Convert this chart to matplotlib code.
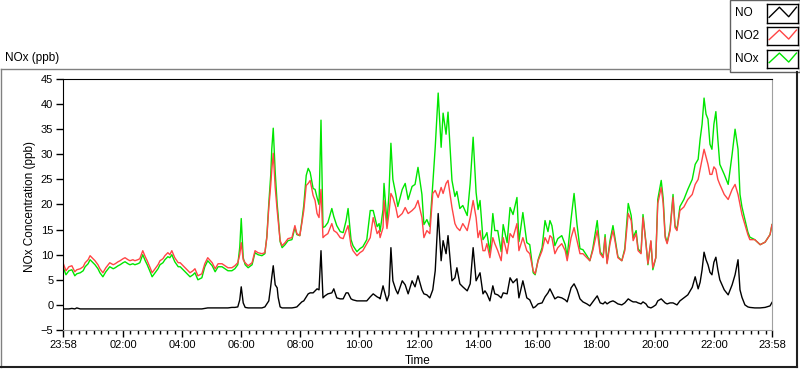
import matplotlib
matplotlib.use('Agg')
import matplotlib.pyplot as plt
from matplotlib.lines import Line2D
from matplotlib.patches import Rectangle

plt.rcParams['font.family'] = ['Liberation Sans', 'DejaVu Sans']

# minutes after 23:58
minutes = [0, 6, 12, 18, 24, 28, 35, 41, 45, 51, 55, 61, 65, 71, 75, 81, 87, 95, 102, 106,
           112, 116, 122, 126, 132, 136, 142, 146, 152, 156, 162, 167, 171, 177, 181, 187, 193, 197, 203, 207,
           213, 217, 221, 227, 234, 238, 244, 248, 254, 258, 264, 268, 274, 282, 288, 294, 303, 309, 315, 323,
           329, 335, 343, 349, 355, 359, 362, 366, 370, 376, 384, 390, 396, 404, 410, 414, 418, 422, 424, 427,
           431, 435, 437, 441, 445, 451, 457, 465, 471, 475, 481, 485, 489, 494, 498, 502, 508, 512, 516, 520,
           524, 528, 532, 538, 546, 550, 556, 563, 569, 575, 579, 585, 589, 597, 603, 609, 617, 624, 630, 638,
           642, 644, 650, 652, 658, 662, 666, 670, 676, 680, 689, 695, 701, 709, 715, 721, 729, 733, 739, 745,
           751, 756, 762, 768, 772, 778, 782, 790, 796, 800, 806, 812, 821, 827, 833, 839, 843, 847, 853, 857,
           861, 867, 873, 877, 883, 890, 894, 902, 908, 914, 922, 926, 934, 942, 948, 955, 959, 965, 973, 979,
           985, 989, 993, 999, 1005, 1013, 1020, 1024, 1032, 1038, 1044, 1050, 1056, 1064, 1070, 1076, 1085, 1091, 1097, 1101,
           1105, 1111, 1117, 1121, 1127, 1135, 1141, 1148, 1154, 1158, 1164, 1168, 1174, 1178, 1184, 1188, 1194, 1198, 1204, 1208,
           1215, 1219, 1223, 1227, 1233, 1239, 1243, 1247, 1253, 1261, 1269, 1278, 1284, 1290, 1294, 1298, 1302, 1306, 1310, 1314,
           1318, 1322, 1326, 1330, 1334, 1343, 1351, 1359, 1365, 1371, 1375, 1379, 1385, 1391, 1395, 1405, 1416, 1426, 1436, 1440]

no2 = [8.4, 6.8, 7.6, 7.8, 6.6, 7.0, 7.2, 7.6, 8.4, 9.0, 9.8, 9.2, 8.8, 8.0, 7.2, 6.4, 7.4, 8.4, 8.0, 8.2,
       8.6, 8.8, 9.2, 9.4, 9.0, 8.8, 9.0, 8.8, 9.0, 9.2, 10.8, 9.6, 8.8, 7.4, 6.4, 7.2, 8.0, 8.8, 9.2, 9.8,
       10.4, 10.0, 10.8, 9.4, 8.4, 8.4, 7.8, 7.4, 6.8, 6.4, 6.8, 7.2, 5.8, 6.2, 8.2, 9.4, 8.4, 7.2, 8.2, 8.2,
       7.8, 7.4, 7.4, 7.8, 8.4, 10.0, 12.4, 9.0, 8.4, 7.8, 8.4, 10.8, 10.4, 10.2, 10.4, 13.4, 19.4, 24.0, 26.8, 30.2,
       23.4, 18.8, 16.8, 12.8, 11.8, 12.4, 13.2, 13.4, 15.8, 14.2, 13.8, 16.2, 18.8, 23.8, 24.2, 24.8, 21.8, 20.8, 18.2, 17.4,
       23.0, 13.4, 13.8, 14.2, 16.2, 14.8, 14.4, 13.4, 13.2, 14.8, 15.8, 11.8, 10.8, 9.8, 10.4, 10.8, 12.2, 13.4, 17.4, 14.2,
       14.8, 13.4, 15.4, 20.8, 15.2, 18.2, 22.2, 21.4, 19.4, 17.4, 18.2, 19.4, 18.2, 18.8, 19.4, 20.8, 17.4, 13.4, 14.8, 14.2,
       22.2, 22.8, 21.4, 23.4, 22.2, 24.2, 24.8, 19.4, 16.2, 15.4, 14.8, 16.2, 14.8, 17.4, 20.8, 17.4, 13.4, 14.8, 10.8, 10.8,
       12.2, 9.4, 13.4, 12.2, 10.8, 8.8, 13.4, 10.2, 14.2, 13.4, 16.2, 10.8, 13.4, 10.8, 10.2, 6.8, 6.2, 8.8, 10.8, 13.4,
       12.2, 13.8, 13.4, 10.2, 11.4, 12.2, 10.8, 8.8, 13.4, 15.4, 12.8, 10.2, 10.2, 9.4, 8.8, 10.8, 14.8, 10.2, 9.4, 13.4,
       8.2, 12.2, 14.8, 12.8, 9.4, 8.8, 10.8, 18.2, 16.8, 12.8, 14.2, 10.8, 10.2, 17.4, 12.2, 8.2, 12.8, 7.4, 9.4, 20.2,
       23.4, 20.2, 13.4, 12.2, 14.8, 21.4, 15.4, 14.8, 18.8, 19.5, 21.0, 22.0, 24.0, 25.0, 27.0, 29.0, 31.0, 29.5, 28.0, 26.0,
       26.0, 27.5, 27.0, 25.0, 24.0, 22.0, 21.0, 23.0, 24.0, 22.0, 20.0, 18.0, 16.0, 14.0, 13.0, 13.0, 12.0, 12.5, 14.0, 16.0]

nox = [7.6, 6.0, 6.8, 7.0, 5.8, 6.2, 6.4, 6.8, 7.6, 8.2, 9.0, 8.4, 8.0, 7.2, 6.4, 5.6, 6.6, 7.6, 7.2, 7.4,
       7.8, 8.0, 8.4, 8.6, 8.2, 8.0, 8.2, 8.0, 8.2, 8.4, 10.0, 8.8, 8.0, 6.6, 5.6, 6.4, 7.2, 8.0, 8.4, 9.0,
       9.6, 9.4, 10.0, 8.6, 7.6, 7.6, 7.0, 6.6, 6.0, 5.6, 6.0, 6.4, 5.0, 5.4, 7.6, 8.8, 7.8, 6.6, 7.6, 7.6,
       7.2, 6.8, 6.8, 7.2, 8.0, 11.5, 17.2, 9.4, 8.0, 7.4, 8.0, 10.4, 10.0, 9.8, 10.2, 13.6, 20.2, 26.0, 31.0, 35.2,
       26.4, 20.0, 17.8, 12.6, 11.4, 12.0, 12.8, 13.0, 15.4, 14.0, 13.8, 16.6, 19.8, 25.8, 27.2, 26.4, 23.2, 23.0, 21.4, 20.0,
       36.8, 15.4, 15.6, 16.4, 19.2, 17.6, 15.8, 14.6, 14.4, 16.8, 19.2, 13.0, 11.8, 10.6, 11.2, 11.6, 13.0, 18.8, 18.8, 15.6,
       16.2, 14.6, 19.0, 24.2, 16.4, 22.0, 32.2, 25.0, 22.0, 19.6, 23.0, 24.2, 21.0, 23.6, 24.0, 27.4, 22.0, 16.0, 17.0, 15.6,
       24.0, 31.4, 42.2, 31.4, 38.2, 34.0, 38.4, 24.8, 21.6, 22.6, 19.2, 19.8, 17.8, 24.2, 33.4, 22.4, 19.0, 20.8, 13.0, 13.6,
       14.4, 10.4, 18.2, 14.8, 14.8, 10.6, 16.0, 12.4, 19.4, 18.0, 21.4, 12.6, 18.4, 12.4, 12.0, 6.4, 6.0, 9.0, 11.4, 16.8,
       14.6, 16.8, 15.8, 11.8, 13.2, 13.8, 12.0, 9.6, 17.2, 22.2, 16.0, 11.2, 11.0, 9.8, 8.8, 11.2, 16.8, 10.6, 9.6, 14.0,
       8.4, 12.8, 15.8, 13.4, 9.6, 8.8, 11.2, 20.2, 17.8, 13.4, 14.8, 11.2, 10.4, 18.0, 12.4, 8.0, 12.6, 7.0, 9.4, 21.0,
       24.8, 21.2, 13.8, 12.4, 15.2, 22.0, 15.8, 15.0, 19.6, 21.0, 23.0, 25.0, 28.0, 29.0, 33.0, 36.0, 41.2, 38.0, 37.0, 32.0,
       31.0, 36.0, 38.5, 33.0, 28.0, 26.0, 24.0, 30.0, 35.0, 31.0, 22.0, 19.5, 17.0, 14.5, 13.5, 13.0, 12.0, 12.5, 14.0, 16.0]

no = [-0.8, -0.8, -0.8, -0.7, -0.8, -0.6, -0.8, -0.8, -0.8, -0.8, -0.8, -0.8, -0.8, -0.8, -0.8, -0.8, -0.8, -0.8, -0.8, -0.8,
      -0.8, -0.8, -0.8, -0.8, -0.8, -0.8, -0.8, -0.8, -0.8, -0.8, -0.8, -0.8, -0.8, -0.8, -0.8, -0.8, -0.8, -0.8, -0.8, -0.8,
      -0.8, -0.8, -0.8, -0.8, -0.8, -0.8, -0.8, -0.8, -0.8, -0.8, -0.8, -0.8, -0.8, -0.8, -0.7, -0.6, -0.6, -0.6, -0.6, -0.6,
      -0.6, -0.6, -0.5, -0.5, -0.4, 1.0, 3.6, 0.4, -0.5, -0.6, -0.6, -0.6, -0.6, -0.6, -0.4, 0.2, 0.8, 3.8, 5.5, 7.8,
      4.0, 3.4, 1.5, -0.4, -0.6, -0.6, -0.6, -0.6, -0.5, -0.4, 0.2, 0.6, 0.8, 1.6, 2.2, 2.4, 2.4, 2.8, 3.2, 3.0,
      10.8, 1.4, 1.8, 2.2, 2.4, 3.2, 1.4, 1.2, 1.2, 2.4, 2.4, 1.2, 1.0, 0.8, 0.8, 0.8, 0.8, 1.6, 2.2, 1.6,
      1.4, 1.2, 3.8, 3.0, 0.8, 2.0, 11.4, 4.8, 3.0, 2.2, 4.8, 4.0, 2.2, 4.8, 3.6, 5.8, 3.0, 2.2, 2.0, 1.4,
      3.0, 6.8, 18.2, 8.8, 12.8, 10.2, 13.8, 4.8, 5.4, 7.4, 4.2, 3.6, 2.8, 4.2, 11.4, 4.8, 5.6, 6.4, 2.2, 2.8,
      2.2, 0.8, 3.8, 2.2, 2.0, 1.4, 2.4, 2.2, 5.4, 4.4, 5.2, 1.4, 4.8, 1.4, 1.0, -0.6, -0.4, 0.2, 0.4, 1.6,
      2.4, 3.2, 2.4, 1.2, 1.6, 1.4, 1.0, 0.6, 3.4, 4.2, 3.0, 1.2, 0.6, 0.2, -0.2, 0.6, 1.8, 0.4, 0.2, 0.6,
      0.2, 0.6, 0.8, 0.6, 0.2, 0.0, 0.4, 1.2, 0.8, 0.6, 0.6, 0.4, 0.2, 0.6, 0.2, -0.4, -0.6, -0.4, 0.0, 0.8,
      1.2, 0.8, 0.4, 0.2, 0.4, 0.4, 0.2, 0.0, 0.8, 1.4, 2.0, 3.5, 5.6, 3.2, 4.5, 7.0, 10.5, 9.0, 8.0, 6.5,
      6.0, 8.5, 9.5, 7.0, 5.0, 3.0, 2.0, 4.0, 6.0, 9.0, 3.0, 1.5, 0.0, -0.4, -0.5, -0.6, -0.6, -0.5, -0.2, 0.5]

tick_min = [0, 122, 242, 362, 482, 602, 722, 842, 962, 1082, 1202, 1322, 1440]
tick_lab = ['23:58', '02:00', '04:00', '06:00', '08:00', '10:00', '12:00',
            '14:00', '16:00', '18:00', '20:00', '22:00', '23:58']

W, H = 800, 369


def fx(px):
    return px / W


def fy(py):
    return 1 - py / H


fig = plt.figure(figsize=(8, 3.69), dpi=100)
ax = fig.add_axes([fx(63), fy(330), fx(772) - fx(63), fy(79) - fy(330)])

ax.plot(minutes, nox, color='#00e600', lw=1)
ax.plot(minutes, no2, color='#ff4545', lw=1)
ax.plot(minutes, no, color='black', lw=1)

ax.set_xlim(0, 1440)
ax.set_ylim(-5, 45)
ax.set_yticks(range(-5, 50, 5))
ax.set_xticks(tick_min)
ax.set_xticklabels(tick_lab)
ax.set_xticks([m for m in range(17, 1440, 15) if (m - 2) % 120 != 0], minor=True)
ax.tick_params(axis='both', which='major', length=5, width=1, labelsize=8, pad=2)
ax.tick_params(axis='x', which='minor', length=3, width=1)

for s in ['left', 'top']:
    ax.spines[s].set_color('black')
for s in ['right', 'bottom']:
    ax.spines[s].set_color('#a0a0a0')

fig.text(fx(418), fy(361), 'Time', ha='center', va='center', fontsize=8.5)
fig.text(fx(30), fy(207), 'NOx Concentration (ppb)', ha='center', va='center',
         rotation=90, fontsize=8.5)
fig.text(fx(5), fy(58), 'NOx (ppb)', ha='left', va='center', fontsize=8.5)

# outer frame
fig.add_artist(Line2D([fx(1), fx(730)], [fy(69), fy(69)], color='#808080', lw=1))
fig.add_artist(Line2D([fx(1), fx(1)], [fy(69), fy(367)], color='#808080', lw=1))
fig.add_artist(Line2D([fx(1), fx(797)], [fy(367), fy(367)], color='#202020', lw=1.5))
fig.add_artist(Line2D([fx(797), fx(797)], [fy(72), fy(367)], color='#202020', lw=1.5))

# legend
fig.add_artist(Rectangle((fx(730), fy(72)), fx(70), 72 / H, transform=fig.transFigure,
                         facecolor='white', edgecolor='#606060', lw=1, zorder=-1))
names = ['NO', 'NO2', 'NOx']
cols = ['black', '#ff4545', '#00e600']
rows = [(4, 23), (27, 45), (50, 68)]
for name, c, (y1, y2) in zip(names, cols, rows):
    fig.text(fx(735), fy((y1 + y2) / 2), name, ha='left', va='center', fontsize=8.5)
    ia = fig.add_axes([fx(767), fy(y2), fx(31), (y2 - y1) / H])
    ia.plot([0.07, 0.4, 0.7, 0.95], [0.3, 0.83, 0.33, 0.83], color=c, lw=1)
    ia.set_xlim(0, 1)
    ia.set_ylim(0, 1)
    ia.set_xticks([])
    ia.set_yticks([])
    for s in ia.spines.values():
        s.set_linewidth(1)

fig.savefig('out.png', dpi=100)
